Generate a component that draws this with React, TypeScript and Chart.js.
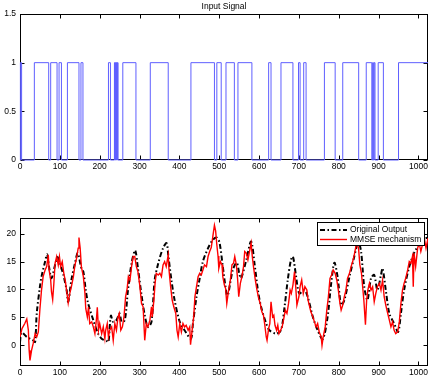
import React, { useEffect, useRef } from "react";
import { Chart, registerables } from "chart.js";
Chart.register(...registerables);

// ---------- data ----------
const xTicks = [0, 100, 200, 300, 400, 500, 600, 700, 800, 900, 1000];
const inputYTicks = [0, 0.5, 1, 1.5];
const outputYTicks = [0, 5, 10, 15, 20];

// sample indices where the binary input signal toggles (starts at 0)
const inputEdges = [
  1, 4, 36, 72, 77, 93, 98, 104, 119, 148, 153, 158, 222, 227,
  237, 238, 239, 240, 241, 242, 243, 244, 245, 246,
  258, 291, 327, 372, 429, 488, 494, 505, 517, 538, 547, 582,
  624, 630, 655, 685, 699, 703, 712, 718, 764, 791, 810, 850,
  869, 883, 885, 887, 889, 891, 899, 912, 950,
];

const originalX = [
  0, 4, 17, 33, 38, 42, 50, 54, 63, 68, 73, 79, 88, 94, 100, 109, 117, 121, 129, 138,
  145, 154, 159, 165, 171, 184, 196, 205, 217, 222, 228, 234, 242, 250, 255, 263, 271, 280, 289, 296,
  305, 313, 321, 330, 338, 347, 359, 368, 372, 380, 388, 401, 413, 429, 434, 443, 451, 459, 472, 484,
  494, 501, 509, 519, 522, 534, 544, 551, 555, 568, 580, 589, 597, 605, 618, 626, 643, 655, 664, 672,
  680, 685, 693, 701, 714, 722, 735, 747, 760, 772, 781, 789, 797, 806, 814, 827, 839, 849, 856, 864,
  872, 881, 889, 897, 906, 910, 918, 927, 939, 949, 956, 964, 977, 989, 998, 1010, 1019, 1024,
];
const originalY = [
  0.6, 2.3, 1.5, 0.9, 0.6, 5.7, 10.5, 12.3, 15, 16.3, 14, 12, 14.4, 15.8, 14.7, 12.6, 9.9, 7.8, 11.7, 14.7,
  16.5, 13.8, 13.2, 9.9, 7.5, 4.5, 2.1, 1.2, 0.8, 0.6, 5.3, 4.2, 4.5, 5.7, 4.2, 4.5, 9.9, 14.7, 17, 13.8,
  9, 5.4, 3.3, 4.2, 11.7, 14.7, 17.4, 18.3, 16.2, 11.7, 8.1, 4.2, 2.7, 1.2, 3.9, 8.7, 12, 15, 17.4, 18.9,
  19.3, 18.3, 14.1, 9, 9, 13.5, 14.8, 12.6, 12, 15.3, 18.6, 14.4, 9.9, 6.9, 3.9, 2.7, 2.1, 2.7, 6.9, 11.7,
  15.3, 15.9, 12.3, 9.3, 9.9, 8.7, 5.1, 2.7, 1.1, 5.1, 11.1, 14.8, 12.3, 7.2, 8.1, 12.3, 15.9, 18.6, 16.8, 10.5,
  8.1, 12, 12.6, 9.9, 12.6, 13.8, 9.9, 5.7, 3.9, 2.4, 5.7, 9.9, 14.1, 16.5, 17.7, 18.9, 19.2, 19.3,
];

const mmseX = [
  0, 5, 12, 17, 21, 23, 25, 29, 33, 38, 42, 46, 50, 54, 58, 63, 67, 71, 73, 77,
  79, 82, 85, 88, 92, 96, 99, 102, 106, 110, 114, 119, 121, 125, 129, 134, 138, 142, 146, 148,
  151, 154, 159, 163, 165, 169, 172, 175, 180, 184, 188, 192, 194, 197, 200, 205, 209, 213, 215, 219,
  222, 225, 230, 234, 238, 242, 246, 249, 253, 257, 261, 265, 269, 272, 276, 280, 284, 288, 292, 296,
  301, 305, 309, 313, 317, 321, 326, 330, 332, 336, 339, 342, 347, 351, 355, 359, 363, 367, 372, 374,
  378, 382, 386, 391, 394, 397, 401, 405, 409, 413, 417, 422, 426, 428, 432, 436, 439, 443, 447, 451,
  455, 459, 463, 468, 472, 476, 480, 484, 488, 491, 494, 497, 499, 503, 507, 509, 513, 516, 519, 523,
  528, 532, 536, 539, 543, 546, 549, 553, 557, 561, 564, 568, 572, 576, 580, 583, 586, 590, 594, 599,
  603, 607, 611, 614, 618, 620, 624, 627, 630, 634, 637, 640, 644, 647, 650, 654, 658, 662, 666, 670,
  674, 678, 681, 685, 689, 692, 695, 700, 703, 707, 711, 715, 720, 723, 726, 730, 735, 739, 743, 747,
  751, 756, 758, 761, 766, 770, 774, 778, 782, 786, 791, 795, 799, 803, 806, 810, 814, 818, 822, 827,
  831, 835, 839, 843, 847, 850, 853, 857, 860, 863, 867, 870, 873, 877, 881, 885, 889, 893, 897, 902,
  906, 910, 914, 918, 923, 927, 931, 935, 939, 943, 948, 952, 956, 960, 964, 968, 973, 977, 981, 985,
  987, 989, 993, 998, 1002, 1006, 1010, 1014, 1019, 1024,
];
const mmseY = [
  1.5, 3.0, 3.9, 4.7, 2.7, -0.9, -2.7, -0.9, 0.3, 2.1, 1.5, 2.4, 6.5, 9.9, 12.3, 13.5, 14.1, 16.2, 13.5, 11.7,
  9.6, 8.2, 11.1, 14.7, 15.9, 14.4, 15.9, 14.1, 15, 12.9, 11.4, 8.7, 7.6, 9.3, 10.5, 12.3, 14.4, 15.6, 17.4, 19.3,
  17.4, 14.1, 12.3, 9.3, 6.6, 5.1, 6.9, 3.9, 4.2, 3.3, 2.1, 4.8, 6.8, 2.7, 3.9, 2.1, 3.3, 1.2, 2.7, 3.9,
  1.5, 2.7, 3.3, 0.9, 3.9, 2.7, 5.1, 5.7, 2.7, 3.3, 5.1, 8.7, 10.2, 12.3, 11.7, 14.1, 15.9, 15.9, 14.1, 13.2,
  10.5, 7.5, 6.9, 0.9, 3.9, 3.3, 4.5, 6.9, 5.1, 8.1, 11.1, 12.9, 12.6, 12.9, 12.3, 14.4, 15, 14.1, 16.2, 13.5,
  10.5, 8.1, 6.9, 5.7, 2.7, 1.5, 3.9, 2.4, 3.9, 3.3, 3.6, 2.7, 3.3, 0.1, 2.7, 5.1, 8.7, 10.5, 12.3, 12.9,
  12.6, 13.5, 14.4, 14.1, 15.9, 16.8, 17.5, 19.5, 21.5, 20.5, 18, 16, 13.8, 15, 14.4, 12.3, 10.8, 10.2, 7.5, 9.6,
  11.7, 14.4, 14.7, 15.9, 14.4, 12, 8.7, 11.1, 12.3, 14.1, 16.8, 16.5, 15.3, 16.8, 18.3, 15.9, 14.1, 12, 10.2, 8.4,
  7.5, 6, 5.4, 3.9, 1.5, 0.9, 3, 3.9, 7.8, 5.1, 5.4, 3.6, 2.7, 3.6, 2.1, 2.7, 3.3, 4.8, 6.3, 5.7,
  7.5, 9.9, 9.3, 10.8, 13.2, 10.5, 7.2, 8.7, 10.5, 11.7, 9.3, 10.5, 9.9, 8.1, 7.2, 6, 5.1, 4.2, 3.3, 3.9,
  2.4, 1.5, 0, 1.5, 3.3, 6.3, 8.7, 12, 12.6, 13.5, 12.9, 11.7, 9.9, 7.5, 6.3, 7.2, 8.7, 9.9, 12, 12.9,
  14.1, 15, 16.2, 17.7, 18.3, 17.1, 14.4, 12.9, 10.5, 8.1, 3.7, 8.1, 9.9, 11.1, 9.9, 10.5, 7.8, 9.3, 10.5, 11.1,
  9.9, 11.7, 8.7, 7.2, 5.7, 4.5, 3.3, 4.2, 2.7, 2.1, 2.4, 4.2, 7.5, 9.9, 11.1, 12, 13.5, 15, 14.7, 15.9,
  10.5, 16.5, 14.1, 17.4, 18.3, 16.8, 18, 19.5, 17.4, 19.2,
];

// ---------- styling helpers ----------
const FONT = "'Liberation Sans', Arial, Helvetica, sans-serif";
const X_MAX = 1024;

const axesPlugin = {
  id: "matlabAxes",
  beforeDatasetsDraw(chart: any) {
    const { ctx, chartArea: a, scales } = chart;
    ctx.save();
    ctx.strokeStyle = "#000";
    ctx.lineWidth = 1;
    const L = Math.round(a.left) + 0.5;
    const R = Math.round(a.right) - 0.5;
    const T = Math.round(a.top) + 0.5;
    const B = Math.round(a.bottom) - 0.5;
    ctx.strokeRect(L, T, R - L, B - T);
    const tl = 4;
    ctx.beginPath();
    scales.x.ticks.forEach((t: any) => {
      const px = Math.round(scales.x.getPixelForValue(t.value)) + 0.5;
      ctx.moveTo(px, B);
      ctx.lineTo(px, B - tl);
      ctx.moveTo(px, T);
      ctx.lineTo(px, T + tl);
    });
    scales.y.ticks.forEach((t: any) => {
      const py = Math.round(scales.y.getPixelForValue(t.value)) + 0.5;
      ctx.moveTo(L, py);
      ctx.lineTo(L + tl, py);
      ctx.moveTo(R, py);
      ctx.lineTo(R - tl, py);
    });
    ctx.stroke();
    ctx.restore();
  },
};

const titlePlugin = {
  id: "matlabTitle",
  afterDraw(chart: any) {
    const { ctx, chartArea: a } = chart;
    ctx.save();
    ctx.fillStyle = "#000";
    ctx.font = `8.5px ${FONT}`;
    ctx.textAlign = "center";
    ctx.textBaseline = "middle";
    ctx.fillText("Input Signal", (a.left + a.right) / 2, 7);
    ctx.restore();
  },
};

const legendPlugin = {
  id: "matlabLegend",
  afterDraw(chart: any) {
    const { ctx, chartArea: a } = chart;
    const w = 107;
    const h = 23;
    const right = Math.round(a.right) - 4;
    const left = right - w;
    const top = Math.round(a.top) + 4;
    ctx.save();
    ctx.fillStyle = "#fff";
    ctx.fillRect(left, top, w, h);
    ctx.strokeStyle = "#000";
    ctx.lineWidth = 1;
    ctx.strokeRect(left + 0.5, top + 0.5, w, h);
    const y1 = top + 8;
    const y2 = top + 17.5;
    ctx.beginPath();
    ctx.setLineDash([5, 2.5, 1.5, 2.5]);
    ctx.lineWidth = 2;
    ctx.strokeStyle = "#000";
    ctx.moveTo(left + 3, y1);
    ctx.lineTo(left + 30, y1);
    ctx.stroke();
    ctx.setLineDash([]);
    ctx.beginPath();
    ctx.lineWidth = 1.4;
    ctx.strokeStyle = "#ff0000";
    ctx.moveTo(left + 3, y2);
    ctx.lineTo(left + 30, y2);
    ctx.stroke();
    ctx.fillStyle = "#000";
    ctx.font = `8.5px ${FONT}`;
    ctx.textAlign = "left";
    ctx.textBaseline = "middle";
    ctx.fillText("Original Output", left + 33, y1);
    ctx.fillText("MMSE mechanism", left + 33, y2);
    ctx.restore();
  },
};

function makeScales(yMin: number, yMax: number, yTicks: number[], xHeight: number) {
  return {
    x: {
      type: "linear" as const,
      min: 0,
      max: X_MAX,
      grid: { display: false, drawTicks: false },
      border: { display: false },
      afterBuildTicks: (s: any) => {
        s.ticks = xTicks.map((v) => ({ value: v }));
      },
      afterFit: (s: any) => {
        s.height = xHeight;
      },
      ticks: {
        padding: 2,
        color: "#000",
        maxRotation: 0,
        autoSkip: false,
        font: { family: FONT, size: 8.5 },
        callback: (v: any) => String(v),
      },
    },
    y: {
      type: "linear" as const,
      min: yMin,
      max: yMax,
      grid: { display: false, drawTicks: false },
      border: { display: false },
      afterBuildTicks: (s: any) => {
        s.ticks = yTicks.map((v) => ({ value: v }));
      },
      afterFit: (s: any) => {
        s.width = 20;
      },
      ticks: {
        padding: 4,
        color: "#000",
        autoSkip: false,
        font: { family: FONT, size: 8.5 },
        callback: (v: any) => String(v),
      },
    },
  };
}

function buildInputPoints() {
  const pts: { x: number; y: number }[] = [{ x: 0, y: 0 }];
  let val = 0;
  inputEdges.forEach((t) => {
    val = 1 - val;
    pts.push({ x: t, y: val });
  });
  pts.push({ x: X_MAX, y: val });
  return pts;
}

export default function App() {
  const topRef = useRef<HTMLCanvasElement>(null);
  const botRef = useRef<HTMLCanvasElement>(null);

  useEffect(() => {
    const top = new Chart(topRef.current as HTMLCanvasElement, {
      type: "line",
      data: {
        datasets: [
          {
            data: buildInputPoints(),
            borderColor: "rgb(95,95,255)",
            borderWidth: 1,
            pointRadius: 0,
            stepped: true,
            fill: false,
            clip: 2,
          } as any,
        ],
      },
      options: {
        animation: false,
        responsive: false,
        devicePixelRatio: 1,
        layout: { padding: { top: 14, right: 8, left: 0, bottom: 0 } },
        plugins: { legend: { display: false }, tooltip: { enabled: false }, title: { display: false } },
        scales: makeScales(0, 1.5, inputYTicks, 20) as any,
      },
      plugins: [axesPlugin, titlePlugin],
    });

    const bot = new Chart(botRef.current as HTMLCanvasElement, {
      type: "line",
      data: {
        datasets: [
          {
            label: "Original Output",
            data: originalX.map((x, i) => ({ x, y: originalY[i] })),
            borderColor: "#000",
            borderWidth: 2,
            borderDash: [5, 2.5, 1.5, 2.5],
            pointRadius: 0,
            tension: 0.3,
            fill: false,
            order: 1,
          } as any,
          {
            label: "MMSE mechanism",
            data: mmseX.map((x, i) => ({ x, y: mmseY[i] })),
            borderColor: "#ff0000",
            borderWidth: 1.4,
            pointRadius: 0,
            tension: 0,
            fill: false,
            order: 0,
          } as any,
        ],
      },
      options: {
        animation: false,
        responsive: false,
        devicePixelRatio: 1,
        layout: { padding: { top: 28, right: 8, left: 0, bottom: 0 } },
        plugins: { legend: { display: false }, tooltip: { enabled: false }, title: { display: false } },
        scales: makeScales(-3.7, 22.8, outputYTicks, 16) as any,
      },
      plugins: [axesPlugin, legendPlugin],
    });

    return () => {
      top.destroy();
      bot.destroy();
    };
  }, []);

  return (
    <div style={{ position: "fixed", left: 0, top: 0, width: 436, height: 382, background: "#fff" }}>
      <canvas ref={topRef} width={436} height={180} style={{ position: "absolute", left: 0, top: 0 }} />
      <canvas ref={botRef} width={436} height={192} style={{ position: "absolute", left: 0, top: 190 }} />
    </div>
  );
}
